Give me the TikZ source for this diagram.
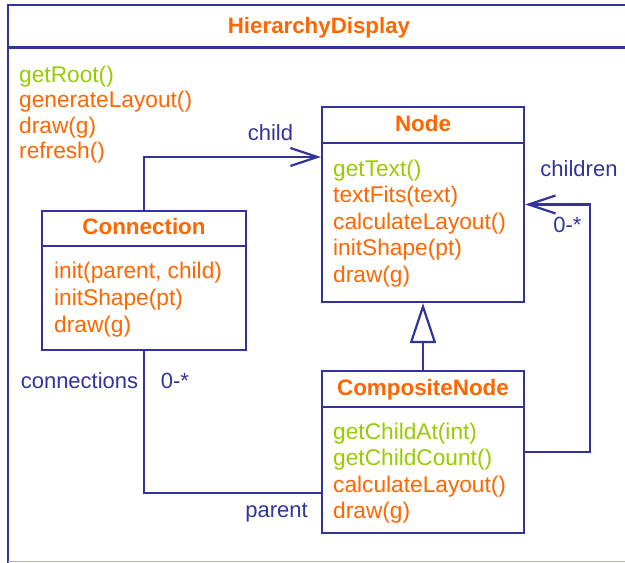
\documentclass[tikz,border=0pt]{standalone}
\usepackage{fontspec}
\setmainfont{Liberation Sans}
\usetikzlibrary{arrows.meta}
\definecolor{umlblue}{HTML}{333399}
\definecolor{umlorange}{HTML}{FF6600}
\definecolor{umlgreen}{HTML}{99CC00}
\definecolor{umlfaint}{HTML}{AAAADD}
\tikzset{
  umlline/.style={draw=umlblue, line width=2.2pt},
  classbox/.style={draw=umlblue, line width=2.2pt, fill=white, inner sep=0pt},
  cname/.style={font=\fontsize{22.4}{26}\selectfont\bfseries, text=umlorange, anchor=base, inner sep=0pt},
  op/.style={font=\fontsize{22.7}{26}\selectfont, text=umlorange, anchor=base west, inner sep=0pt},
  opq/.style={op, text=umlgreen},
  lbl/.style={font=\fontsize{22}{26}\selectfont, text=umlblue, anchor=base, inner sep=0pt},
  openarrow/.style={-{Straight Barb[length=27pt, width=18pt, line width=2.2pt]}},
  inherit/.style={-{Triangle[open, length=40pt, width=26pt, line width=2.2pt, fill=white]}}
}
\begin{document}
\begin{tikzpicture}[x=1pt,y=-1pt]
\useasboundingbox (0,0) rectangle (625,563);
% outer frame
\fill[white] (0,0) rectangle (625,563);
\draw[draw=umlblue, line width=2pt] (8,563) -- (8,5) -- (625,5);
\draw[draw=umlblue, line width=2.6pt] (8,47.5) -- (625,47.5);
\draw[draw=umlfaint, line width=1pt] (8,561.5) -- (625,561.5);
\node[font=\fontsize{22.3}{26}\selectfont\bfseries, text=umlorange, anchor=base, inner sep=0pt] (hdT) at (319,33) {HierarchyDisplay};
\node[opq] (hd1) at (19,82) {getRoot()};
\node[op] (hd2) at (19,107.5) {generateLayout()};
\node[op] (hd3) at (19,133) {draw(g)};
\node[op] (hd4) at (19,158.5) {refresh()};

% Node class
\node[classbox, minimum width=202pt, minimum height=195pt] (nodeC) at (423,204.5) {};
\draw[umlline] (nodeC.west |- 0,143) -- (nodeC.east |- 0,143);
\node[cname] (nodeT) at (423,131) {Node};
\node[opq] (n1) at (333,176) {getText()};
\node[op] (n2) at (333,202.5) {textFits(text)};
\node[op] (n3) at (333,229) {calculateLayout()};
\node[op] (n4) at (333,255.5) {initShape(pt)};
\node[op] (n5) at (333,282) {draw(g)};

% Connection class
\node[classbox, minimum width=204pt, minimum height=139pt] (conn) at (144,280.5) {};
\draw[umlline] (conn.west |- 0,246) -- (conn.east |- 0,246);
\node[cname] (connT) at (144,234) {Connection};
\node[op] (c1) at (54,278) {init(parent, child)};
\node[op] (c2) at (54,305) {initShape(pt)};
\node[op] (c3) at (54,332) {draw(g)};

% CompositeNode class
\node[classbox, minimum width=202pt, minimum height=162pt] (comp) at (423,452) {};
\draw[umlline] (comp.west |- 0,407) -- (comp.east |- 0,407);
\node[cname] (compT) at (423,395) {CompositeNode};
\node[opq] (k1) at (333,439.5) {getChildAt(int)};
\node[opq] (k2) at (333,465.5) {getChildCount()};
\node[op] (k3) at (333,492) {calculateLayout()};
\node[op] (k4) at (333,518) {draw(g)};

% connectors
\coordinate (childBend) at (144,157);
\draw[umlline, openarrow] (conn.north) -- (childBend) -- (nodeC.west |- childBend);
\coordinate (kidsBend) at (590,204.5);
\draw[umlline, openarrow] (comp.east) -| (kidsBend) -- (nodeC.east);
\coordinate (connBend) at (144,493);
\draw[umlline] (conn.south) -- (connBend) -- (comp.west |- connBend);
\draw[umlline, inherit] (comp.north) -- (nodeC.south);

% labels
\node[lbl] (lchild) at (270.5,140) {child};
\node[lbl] (lkids) at (579,176) {children};
\node[lbl] (lkidsm) at (567.5,232) {0-*};
\node[lbl] (lconns) at (79.5,388) {connections};
\node[lbl] (lconnsm) at (175,388) {0-*};
\node[lbl] (lparent) at (276.5,517) {parent};
\end{tikzpicture}
\end{document}
